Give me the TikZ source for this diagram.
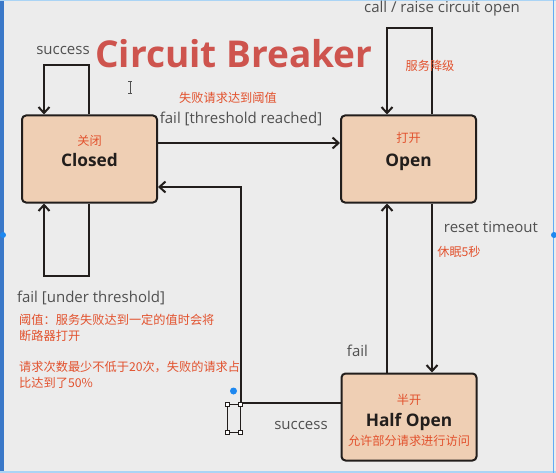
\documentclass[tikz,border=0pt]{standalone}
\usepackage{fontspec}
\setmainfont{Open Sans}
\newfontfamily\cjk{Noto Sans CJK SC}
\usetikzlibrary{arrows.meta,calc}
\definecolor{bg}{RGB}{236,236,236}
\definecolor{boxfill}{RGB}{239,207,180}
\definecolor{ink}{RGB}{34,30,28}
\definecolor{lbl}{RGB}{80,80,80}
\definecolor{cnred}{RGB}{226,82,46}
\definecolor{titlered}{RGB}{206,84,78}
\definecolor{selblue}{RGB}{30,136,240}
\definecolor{edgeblue}{RGB}{58,120,200}
\definecolor{lightblue}{RGB}{170,212,245}
\tikzset{
  statebox/.style={draw=ink, line width=2pt, fill=boxfill, rounded corners=4pt,
    minimum width=135pt, minimum height=87pt, inner sep=0pt},
  arr/.style={draw=ink, line width=2pt, -{Straight Barb[length=6pt,width=11pt,line width=2pt]}},
  lab/.style={text=lbl, font=\fontsize{15}{17}\selectfont, inner sep=0pt},
  cn/.style={text=cnred, font=\cjk\fontsize{12.2}{14}\selectfont, inner sep=0pt},
  sname/.style={text=ink, font=\bfseries\fontsize{17.3}{20}\selectfont, inner sep=0pt},
}
\begin{document}
\begin{tikzpicture}[x=1pt,y=-1pt]
\fill[bg] (0,0) rectangle (556,473);
\useasboundingbox (0,0) rectangle (556,473);
% screen edges
\fill[edgeblue] (0,0) rectangle (4,473);
\fill[lightblue] (0,0) rectangle (556,1.5);
\fill[lightblue] (0,471) rectangle (556,473);
\draw[selblue!70, line width=0.8pt] (553.5,0) -- (553.5,473);
\fill[selblue] (3,235) circle (3);
\fill[selblue] (554,235) circle (3);

% states
\node[statebox] (closed) at (89.5,159) {};
\node[statebox] (open) at (408.5,159) {};
\node[statebox] (half) at (409,417) {};

\node[cn] (closedcn) at (89.5,141) {关闭};
\node[sname] (closedname) at (89.5,160) {Closed};
\node[cn] (opencn) at (408.5,138) {打开};
\node[sname] (openname) at (408.5,162) {Open};
\node[cn] (halfcn) at (409,400) {半开};
\node[sname] (halfname) at (409,421.5) {Half Open};
\node[cn] (halfdesc) at (409,441) {允许部分请求进行访问};

% title
\node[text=titlered, font=\bfseries\fontsize{37}{42}\selectfont, inner sep=0pt] (title) at (234,54) {Circuit Breaker};

% coordinates
\coordinate (s1) at (89,65);
\coordinate (s2) at (44,65);
\coordinate (f1) at (89,276);
\coordinate (f2) at (44,276);
\coordinate (r) at (0,143);
\coordinate (o1) at (432,28);
\coordinate (o2) at (387,28);
\coordinate (h1) at (241,403);
\coordinate (h2) at (241,187);

% connectors
\draw[arr] (closed.north -| s1) -- (s1) -- (s2) -- (closed.north -| s2);
\draw[arr] (closed.south -| f1) -- (f1) -- (f2) -- (closed.south -| f2);
\draw[arr] (closed.east |- r) -- (open.west |- r);
\draw[arr] (open.north -| o1) -- (o1) -- (o2) -- (open.north -| o2);
\draw[arr] (open.south -| o1) -- (half.north -| o1);
\draw[arr] (half.north -| o2) -- (open.south -| o2);
\draw[arr] (half.west |- h1) -- (h1) -- (h2) -- (closed.east |- h2);

% labels
\node[lab] (lsuccess1) at (63,50) {success};
\node[cn] (lthreshcn) at (228,98) {失败请求达到阈值};
\node[lab] (lthresh) at (241,119) {fail [threshold reached]};
\node[lab] (lcall) at (442,9) {call / raise circuit open};
\node[cn] (lcallcn) at (430,66) {服务降级};
\node[lab] (lreset) at (491,227) {reset timeout};
\node[cn] (lresetcn) at (459,252) {休眠5秒};
\node[lab] (lunder) at (91,298) {fail [under threshold]};
\node[lab] (lfail) at (357.5,351) {fail};
\node[lab] (lsuccess2) at (301,425) {success};
\node[cn, anchor=west] (note1) at (19,320) {阈值：服务失败达到一定的值时会将};
\node[cn, anchor=west] (note2) at (19,336) {断路器打开};
\node[cn, anchor=west] (note3) at (19,367) {请求次数最少不低于20次，失败的请求占};
\node[cn, anchor=west] (note4) at (19,383) {比达到了50\%};

% selection artefacts
\fill[selblue] (233.5,391) circle (3.5);
\draw[ink, line width=0.6pt] (227.5,404) rectangle (240.5,432);
\foreach \p in {(227.5,404),(240.5,404),(227.5,432),(240.5,432)}
  \draw[ink, fill=white, line width=0.6pt] \p ++(-2.2,-2.2) rectangle ++(4.4,4.4);
% text cursor
\draw[lbl, line width=1pt] (130,82) -- (130,94) (128,82) -- (132,82) (128,94) -- (132,94);
\end{tikzpicture}
\end{document}
